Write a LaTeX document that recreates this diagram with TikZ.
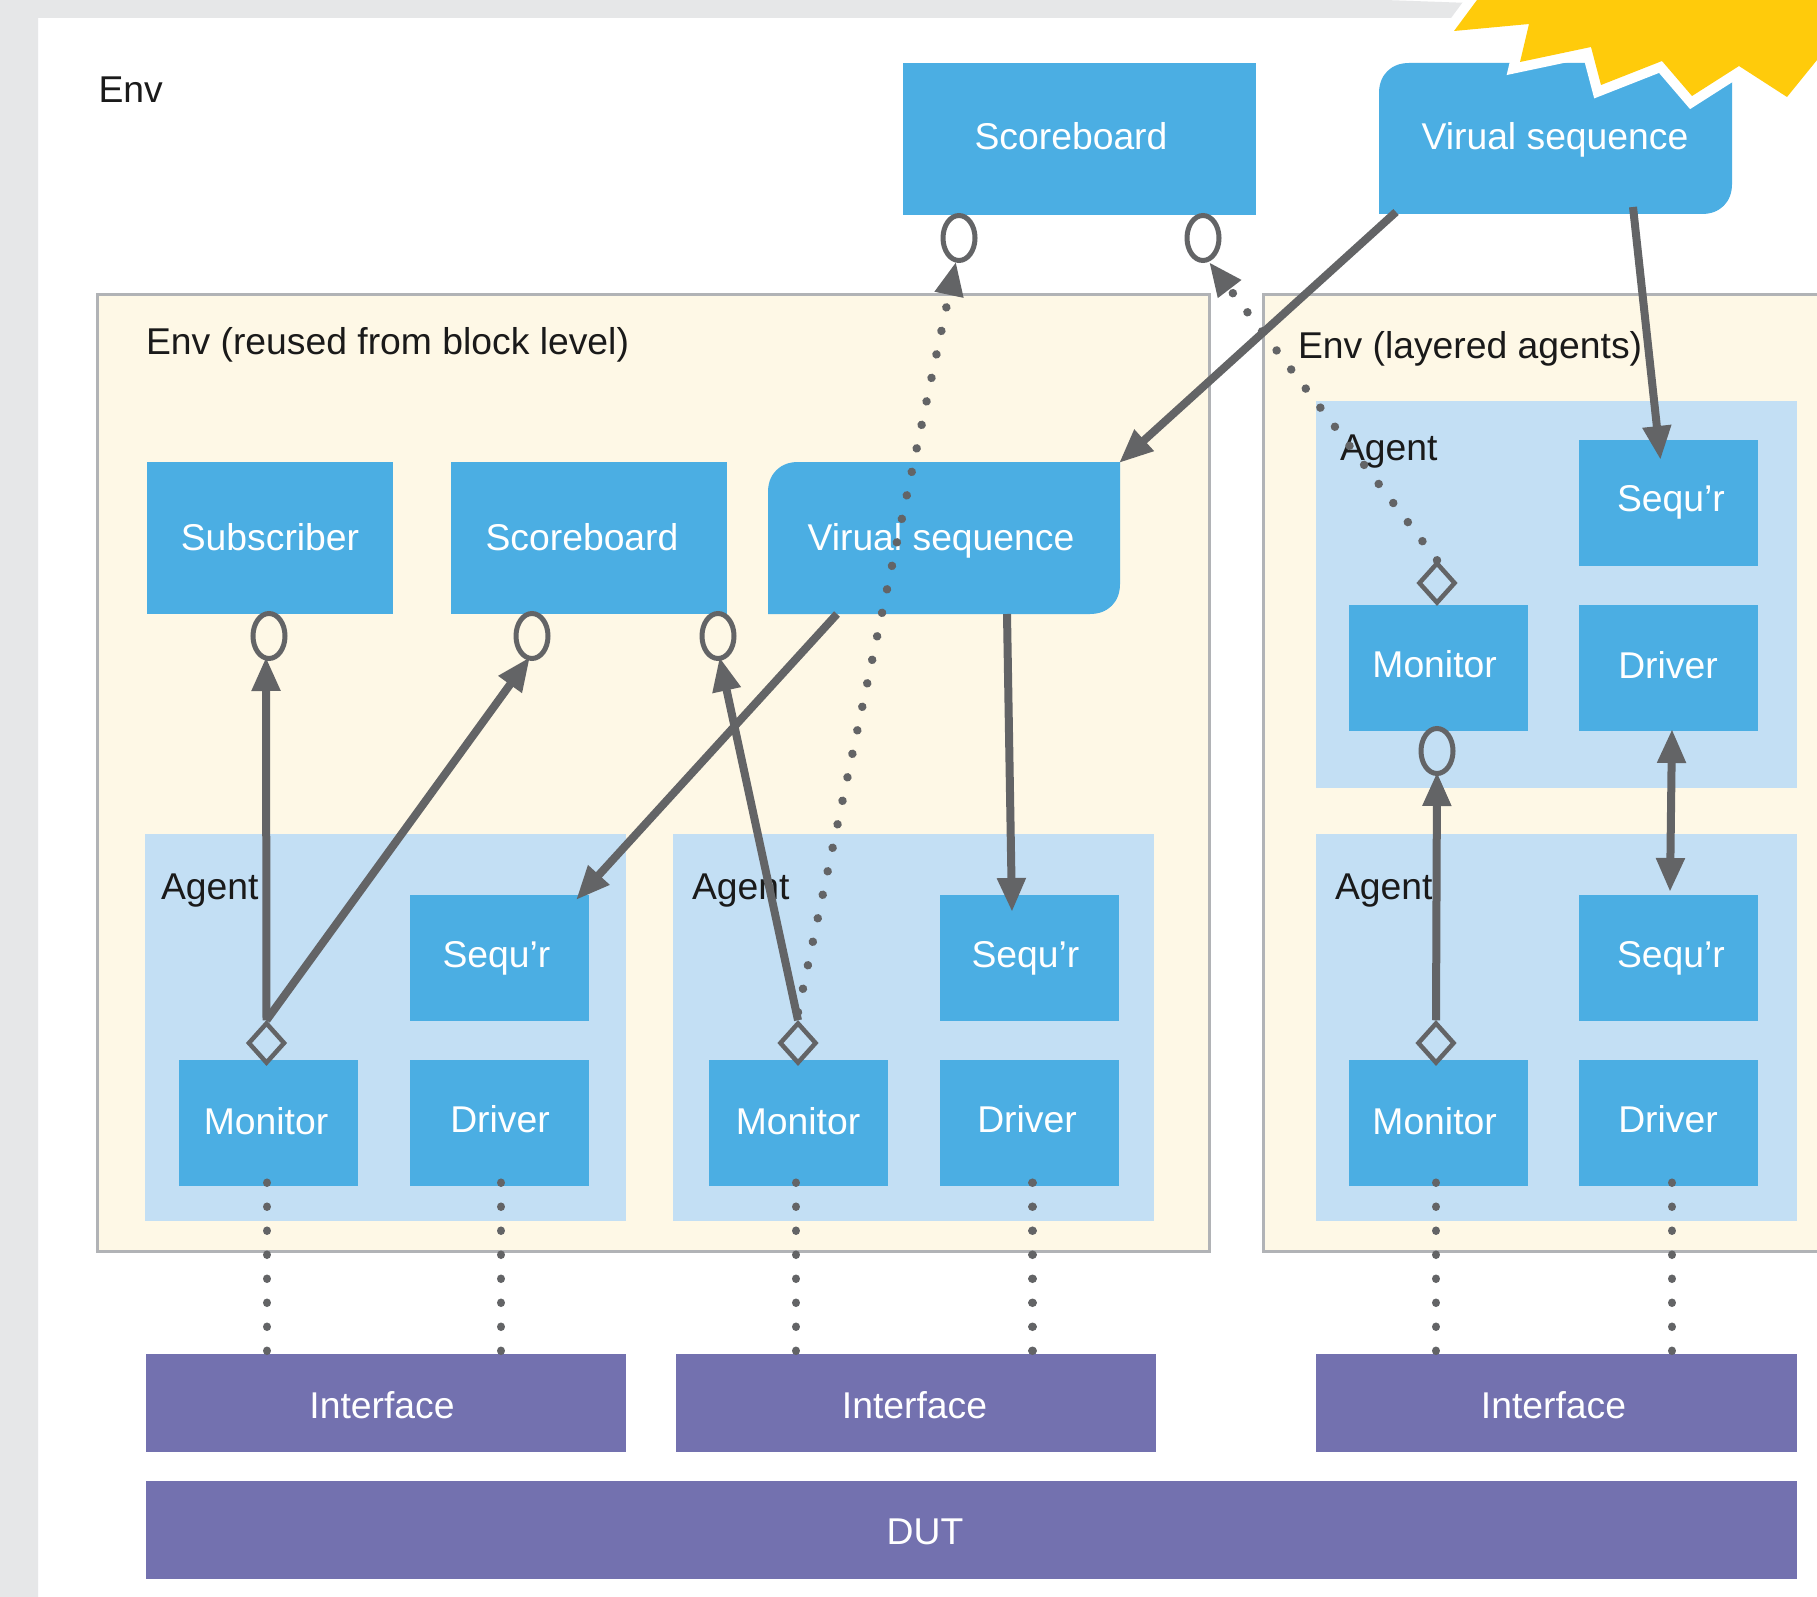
\documentclass[tikz,border=0pt]{standalone}
\usepackage{fontspec}
\setmainfont{Liberation Sans}
\usetikzlibrary{arrows.meta,shapes.geometric}
\definecolor{bgray}{HTML}{E6E7E8}
\definecolor{cream}{HTML}{FEF8E6}
\definecolor{frameg}{HTML}{B1B3B6}
\definecolor{agentb}{HTML}{C3DFF4}
\definecolor{boxb}{HTML}{4BAEE3}
\definecolor{ifacep}{HTML}{7371AF}
\definecolor{arrowg}{HTML}{636466}
\definecolor{burst}{HTML}{FFCB0B}
\definecolor{inkk}{HTML}{1A1A1A}
\newcommand\bxtext[3]{\raisebox{#2}{\hspace*{#1}#3}}
% name, x0, y0, x1, y1, text centre x, baseline y, text ; style before
\newcommand\bx[9]{%
  \pgfmathsetmacro\bxcx{(#3+#5)/2}\pgfmathsetmacro\bxcy{(#4+#6)/2}%
  \pgfmathsetmacro\bxw{#5-#3}\pgfmathsetmacro\bxh{#6-#4}%
  \pgfmathsetmacro\bxdx{2*(#7-\bxcx)}\pgfmathsetmacro\bxdy{\bxcy-#8}%
  \node[#1,minimum width=\bxw pt,minimum height=\bxh pt] (#2) at (\bxcx,\bxcy) {\bxtext{\bxdx pt}{\bxdy pt}{#9}};}
\newcommand\roundbox[5]{% x0,y0,x1,y1
  \fill[boxb] (#1,#4) -- (#1,#2+30) .. controls (#1,#2+12) and (#1+12,#2) .. (#1+30,#2)
    -- (#3,#2) -- (#3,#4-30) .. controls (#3,#4-12) and (#3-12,#4) .. (#3-30,#4) -- cycle;}
\tikzset{
  base/.style={inner sep=0pt,outer sep=0pt,text height=0pt,text depth=0pt,font=\fontsize{37.3}{44}\selectfont},
  bluebox/.style={base,rectangle,fill=boxb,text=white},
  clearbox/.style={base,rectangle,text=white},
  purplebox/.style={base,rectangle,fill=ifacep,text=white},
  lbl/.style={inner sep=0pt,outer sep=0pt,anchor=base west,text=inkk,font=\fontsize{37.3}{44}\selectfont},
  region/.style={rectangle,fill=agentb},
  port/.style={ellipse,draw=arrowg,line width=5pt,minimum width=32pt,minimum height=45pt,inner sep=0pt},
  dia/.style={diamond,draw=arrowg,line width=4.5pt,minimum width=37pt,minimum height=41pt,inner sep=0pt},
  solidarrow/.style={draw=arrowg,line width=8pt,-{Triangle[length=34pt,width=27pt]}},
  dotline/.style={draw=arrowg,line width=8.5pt,line cap=round,dash pattern=on 0.01pt off 24pt},
}
\begin{document}
\begin{tikzpicture}[x=1pt,y=-1pt]
\useasboundingbox (0,0) rectangle (1817,1597);
\clip (0,0) rectangle (1817,1597);
\fill[white] (0,0) rectangle (1817,1597);
% page background strips
\fill[bgray] (0,0) -- (1385,0) -- (1470,3) -- (1470,18) -- (38,18) -- (38,1597) -- (0,1597) -- cycle;
% top level blocks
\node[lbl] (envtop) at (98.5,103) {Env};
\bx{bluebox}{sb}{903}{63}{1256}{215}{1071}{150}{Scoreboard}
\roundbox{1379}{63}{1732}{214}{}
\bx{clearbox}{vs}{1379}{63}{1732}{214}{1555}{150}{Virual sequence}
% burst
\draw[white,line width=20pt,miter limit=10,fill=burst,line join=miter]
  (1477,-20) -- (1477,0) -- (1454,31) -- (1529,24) -- (1520,62) -- (1591,47) -- (1601,85) -- (1662,61)
  -- (1692,96) -- (1739,66) -- (1787,97) -- (1817,60) -- (1850,60) -- (1850,-20) -- cycle;
\fill[burst]
  (1477,0) -- (1454,31) -- (1529,24) -- (1520,62) -- (1591,47) -- (1601,85) -- (1662,61)
  -- (1692,96) -- (1739,66) -- (1787,97) -- (1817,60) -- (1817,0) -- cycle;
% env frames
\draw[frameg,line width=3pt,fill=cream] (97,294.5) rectangle (1209.5,1251);
\draw[frameg,line width=3pt,fill=cream] (1263,294.5) rectangle (1840,1251);
\node[lbl] (envl) at (146,354) {Env (reused from block level)};
\node[lbl] (envr) at (1298,358) {Env (layered agents)};
% agents
\bx{region}{ag1}{145}{834}{626}{1221}{385}{1027}{}
\bx{region}{ag2}{673}{834}{1153.5}{1221}{913}{1027}{}
\bx{region}{ag3}{1316}{834}{1797}{1221}{1556}{1027}{}
\bx{region}{ag4}{1316}{401}{1797}{788}{1556}{594}{}
\node[lbl] (agl1) at (161,899) {Agent};
\node[lbl] (agl2) at (692,899) {Agent};
\node[lbl] (agl3) at (1335,899) {Agent};
\node[lbl] (agl4) at (1340,460) {Agent};
% upper blue boxes
\bx{bluebox}{sub}{147}{462}{393}{614}{270}{550.5}{Subscriber}
\bx{bluebox}{sb2}{451}{462}{727}{614}{582}{550.5}{Scoreboard}
\roundbox{768}{462}{1120}{614}{}
\bx{clearbox}{vs2}{768}{462}{1120}{614}{941}{550.5}{Virual sequence}
% agent 1
\bx{bluebox}{s1}{410}{895}{589}{1021}{496.5}{967}{Sequ’r}
\bx{bluebox}{m1}{179}{1060}{358}{1186}{266}{1134}{Monitor}
\bx{bluebox}{d1}{410}{1060}{589}{1186}{500}{1132}{Driver}
% agent 2
\bx{bluebox}{s2}{940}{895}{1119}{1021}{1025.5}{967}{Sequ’r}
\bx{bluebox}{m2}{709}{1060}{888}{1186}{798}{1134}{Monitor}
\bx{bluebox}{d2}{940}{1060}{1119}{1186}{1027}{1132}{Driver}
% agent 3
\bx{bluebox}{s3}{1579}{895}{1758}{1021}{1671}{967}{Sequ’r}
\bx{bluebox}{m3}{1349}{1060}{1528}{1186}{1434.6}{1134}{Monitor}
\bx{bluebox}{d3}{1579}{1060}{1758}{1186}{1668}{1132}{Driver}
% agent 4
\bx{bluebox}{s4}{1579}{440}{1758}{566}{1671}{511}{Sequ’r}
\bx{bluebox}{m4}{1349}{605}{1528}{731}{1434.6}{677}{Monitor}
\bx{bluebox}{d4}{1579}{605}{1758}{731}{1668}{678}{Driver}
% interfaces and DUT
\bx{purplebox}{i1}{146}{1354}{626}{1452}{382}{1418}{Interface}
\bx{purplebox}{i2}{676}{1354}{1156}{1452}{914.5}{1418}{Interface}
\bx{purplebox}{i3}{1316}{1354}{1797}{1452}{1553.5}{1418}{Interface}
\bx{purplebox}{dut}{146}{1481}{1797}{1579}{925}{1544}{DUT}
% ports
\node[port] (ptop1) at (959,238) {};
\node[port] (ptop2) at (1203,238) {};
\node[port] (p1) at (269,636) {};
\node[port] (p2) at (532,636) {};
\node[port] (p3) at (718,636) {};
\node[port] (p4) at (1437,751) {};
\node[dia] (q1) at (266.5,1043) {};
\node[dia] (q2) at (798,1043) {};
\node[dia] (q3) at (1436,1043) {};
\node[dia] (q4) at (1437,583) {};
% interface wires
\draw[dotline] ([xshift=-1.5pt,yshift=3.3pt]m1.south) -- ([xshift=-119pt,yshift=2.9pt]i1.north);
\draw[dotline] ([xshift=1.5pt,yshift=3.3pt]d1.south) -- ([xshift=115pt,yshift=2.9pt]i1.north);
\draw[dotline] ([xshift=-2.5pt,yshift=3.3pt]m2.south) -- ([xshift=-120pt,yshift=2.9pt]i2.north);
\draw[dotline] ([xshift=3pt,yshift=3.3pt]d2.south) -- ([xshift=116.5pt,yshift=2.9pt]i2.north);
\draw[dotline] ([xshift=-2.5pt,yshift=3.3pt]m3.south) -- ([xshift=-120.5pt,yshift=2.9pt]i3.north);
\draw[dotline] ([xshift=3.5pt,yshift=3.3pt]d3.south) -- ([xshift=115.5pt,yshift=2.9pt]i3.north);
% analysis connections
\draw[solidarrow] ([xshift=17pt,yshift=2pt]vs.south west) -- ([xshift=-1pt,yshift=-1pt]vs2.north east);
\draw[solidarrow] ([xshift=77.5pt,yshift=7pt]vs.south) -- ([xshift=-8pt,yshift=-20pt]s4.north);
\draw[solidarrow] ([xshift=69pt]vs2.south west) -- ([xshift=-13pt,yshift=-5pt]s1.north east);
\draw[solidarrow] ([xshift=63pt]vs2.south) -- ([xshift=-17.5pt,yshift=-17pt]s2.north);
\draw[solidarrow] (q1.north) -- ([xshift=-3pt,yshift=4pt]p1.south);
\draw[solidarrow] (q1.north) -- ([xshift=-2pt,yshift=4pt]p2.south);
\draw[solidarrow] (q2.north) -- ([xshift=1.5pt,yshift=4pt]p3.south);
\draw[solidarrow] (q3.north) -- ([yshift=4pt]p4.south);
\draw[solidarrow,{Triangle[length=34pt,width=27pt]}-{Triangle[length=34pt,width=27pt]}] ([xshift=3.5pt,yshift=2pt]d4.south) -- ([xshift=1.5pt,yshift=3pt]s3.north);
\draw[dotline,-{Triangle[length=34pt,width=27pt]}] ([yshift=8pt]q2.north) -- ([xshift=-3pt,yshift=1.5pt]ptop1.south);
\draw[dotline,-{Triangle[length=34pt,width=27pt]}] (q4.north) -- ([xshift=6pt,yshift=1pt]ptop2.south);
\end{tikzpicture}
\end{document}
